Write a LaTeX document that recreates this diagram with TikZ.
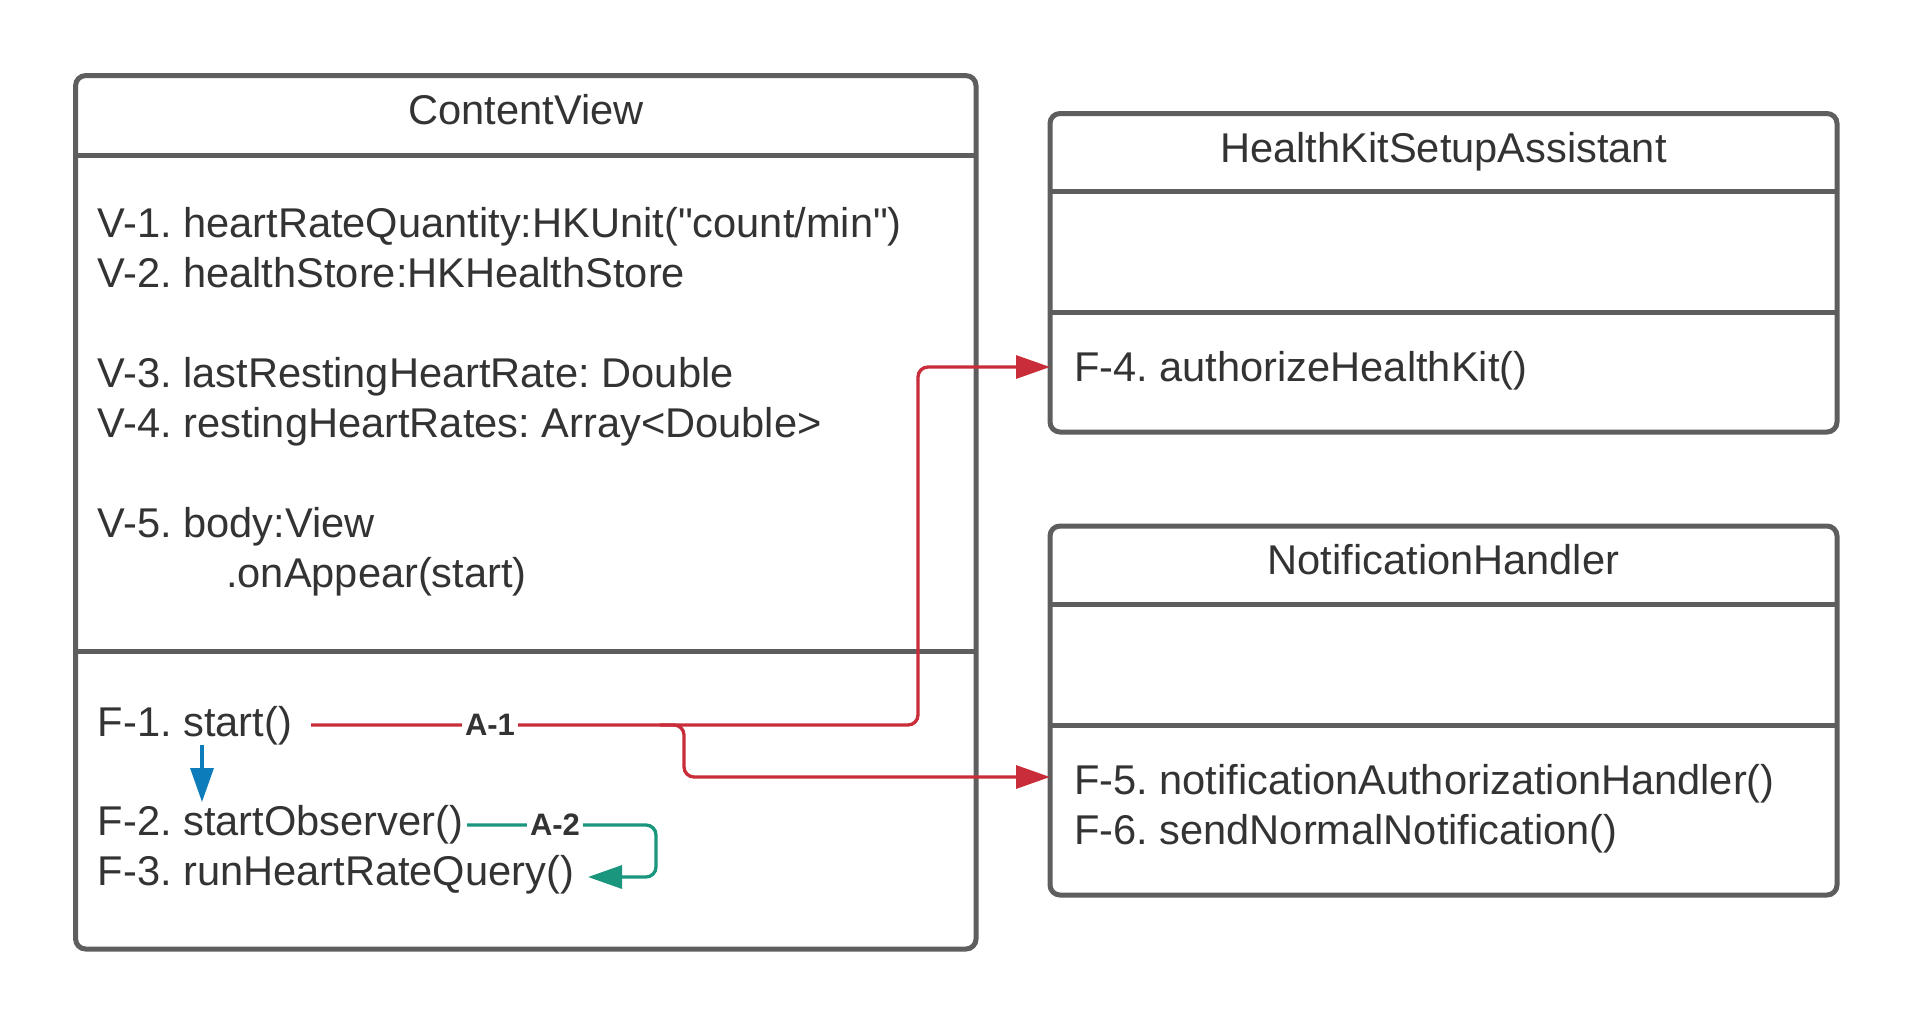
\documentclass[tikz,border=0pt]{standalone}
\usepackage{fontspec}
\setmainfont{Liberation Sans}
\newfontfamily\plainff{Liberation Sans}
\usetikzlibrary{arrows.meta}
\definecolor{boxgray}{HTML}{5E5E5E}
\definecolor{textc}{HTML}{333333}
\definecolor{ared}{HTML}{C92D39}
\definecolor{ablue}{HTML}{0C7CBA}
\definecolor{agreen}{HTML}{19967D}
\newcommand\mainsz{\plainff\fontsize{41.6}{49}\selectfont\frenchspacing}
\newcommand\labsz{\plainff\fontsize{31}{36}\selectfont\bfseries}
\tikzset{
  umlbox/.style={draw=boxgray, line width=5pt, rounded corners=10pt, anchor=north west, inner sep=0pt, outer sep=0pt},
  divider/.style={draw=boxgray, line width=5pt},
  txt/.style={anchor=base west, inner sep=0pt, text=textc, font=\mainsz},
  ttl/.style={anchor=base, inner sep=0pt, text=textc, font=\mainsz},
  conn/.style={line width=3.3pt, rounded corners=10pt, -{Triangle[length=34pt,width=23pt]}},
  redline/.style={conn, draw=ared},
  blueline/.style={conn, draw=ablue},
  greenline/.style={conn, draw=agreen},
  clab/.style={fill=white, inner xsep=3pt, inner ysep=1pt, text=textc, font=\labsz},
}
\begin{document}
\begin{tikzpicture}[x=1pt,y=-1pt]
\useasboundingbox (0,0) rectangle (1913,1026);
\fill[white] (0,0) rectangle (1913,1026);

% ContentView box
\draw[divider] (75.6,155) -- (976,155);
\draw[divider] (75.6,651.5) -- (976,651.5);
\node[umlbox, minimum width=900.4pt, minimum height=873.4pt] (cv) at (75.6,75.6) {};
\node[ttl] (cvt) at (526,124) {ContentView};
\node[txt] (v1) at (97.6,237) {V-1. heartRateQuantity:HKUnit("count/min")};
\node[txt] (v2) at (97.6,287) {V-2. healthStore:HKHealthStore};
\node[txt] (v3) at (97.6,387) {V-3. lastRestingHeartRate: Double};
\node[txt] (v4) at (97.6,437) {V-4. restingHeartRates: Array<Double>};
\node[txt] (v5) at (97.6,537) {V-5. body:View};
\node[txt] (v5b) at (226,587) {.onAppear(start)};
\node[txt] (f1) at (97.6,736) {F-1. start()};
\node[txt] (f2) at (97.6,835) {F-2. startObserver()};
\node[txt] (f3) at (97.6,885) {F-3. runHeartRateQuery()};

% HealthKitSetupAssistant box
\draw[divider] (1050,191.5) -- (1837,191.5);
\draw[divider] (1050,312) -- (1837,312);
\node[umlbox, minimum width=787pt, minimum height=318.5pt] (hk) at (1050,113.5) {};
\node[ttl] (hkt) at (1443.5,162) {HealthKitSetupAssistant};
\node[txt] (f4) at (1074,381) {F-4. authorizeHealthKit()};

% NotificationHandler box
\draw[divider] (1050,604) -- (1837,604);
\draw[divider] (1050,725) -- (1837,725);
\node[umlbox, minimum width=787pt, minimum height=369pt] (nh) at (1050,526) {};
\node[ttl] (nht) at (1443.5,574) {NotificationHandler};
\node[txt] (f5) at (1074,794) {F-5. notificationAuthorizationHandler()};
\node[txt] (f6) at (1074,844) {F-6. sendNormalNotification()};

% connector end points
\coordinate (a1s) at (311,725);
\coordinate (a1b) at (660,725);
\coordinate (f4in) at (hk.west |- 0,367);
\coordinate (f5in) at (nh.west |- 0,777);
\coordinate (a0s) at (202,745);
\coordinate (a0e) at (202,802);
\coordinate (a2s) at (467,825);
\coordinate (a2e) at (588,877);

% A-1
\draw[redline] (a1s) -- (918,725) -- (918,367) -- (f4in);
\draw[redline] (a1b) -- (684,725) -- (684,777) -- (f5in);
\node[clab] (a1) at (490,725) {A-1};

% blue
\draw[blueline] (a0s) -- (a0e);

% A-2
\draw[greenline] (a2s) -- (656,825) -- (656,877) -- (a2e);
\node[clab] (a2) at (555,825) {A-2};
\end{tikzpicture}
\end{document}
